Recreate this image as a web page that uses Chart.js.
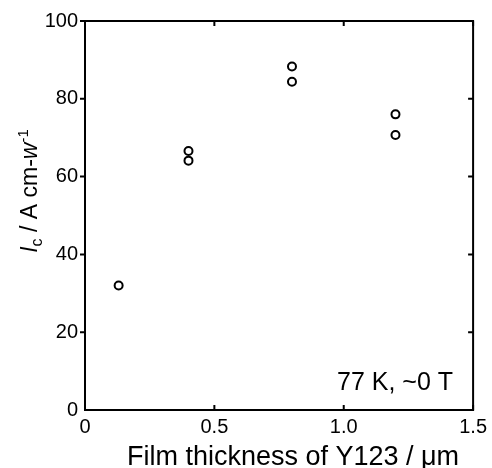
<!DOCTYPE html>
<html>
<head>
<meta charset="utf-8">
<script src="https://cdn.jsdelivr.net/npm/chart.js@4"></script>
<style>
  html, body { margin: 0; padding: 0; background: #fff; }
  canvas { display: block; }
</style>
</head>
<body>
<canvas id="chart" width="492" height="468"></canvas>
<script>
// film thickness (um) and Ic (A/cm-w)
const thickness = [0.13, 0.4, 0.4, 0.8, 0.8, 1.2, 1.2];
const ic = [32.0, 66.6, 64.1, 88.3, 84.4, 76.0, 70.7];
const xTicks = [0, 0.5, 1.0, 1.5];
const yTicks = [0, 20, 40, 60, 80, 100];

const FONT = '"Liberation Sans", Arial, sans-serif';

const framePlugin = {
  id: 'frame',
  afterDraw(chart) {
    const { ctx, chartArea: a, scales: { x, y } } = chart;
    ctx.save();
    ctx.strokeStyle = '#000';
    ctx.lineWidth = 2;
    ctx.strokeRect(a.left, a.top, a.right - a.left, a.bottom - a.top);

    ctx.beginPath();
    xTicks.forEach(v => {
      const px = x.getPixelForValue(v);
      ctx.moveTo(px, a.bottom); ctx.lineTo(px, a.bottom - 5);
      ctx.moveTo(px, a.top); ctx.lineTo(px, a.top + 5);
    });
    yTicks.forEach(v => {
      const py = y.getPixelForValue(v);
      if (v > 0) { ctx.moveTo(a.left, py); ctx.lineTo(a.left - 5, py); }
      ctx.moveTo(a.right, py); ctx.lineTo(a.right - 5, py);
    });
    ctx.stroke();

    ctx.fillStyle = '#000';

    // x title
    ctx.font = '27px ' + FONT;
    ctx.textAlign = 'center';
    ctx.textBaseline = 'alphabetic';
    ctx.fillText('Film thickness of Y123 / \u03bcm', 293, 465);

    // note
    ctx.font = '25px ' + FONT;
    ctx.textAlign = 'left';
    ctx.fillText('77 K, ~0 T', 337, 390);

    // y title, rich text rotated
    const parts = [
      { t: 'I', f: 'italic 23px ' + FONT, dy: 0 },
      { t: 'c', f: '16px ' + FONT, dy: 5 },
      { t: ' / A cm-', f: '23px ' + FONT, dy: 0 },
      { t: 'w', f: 'italic 23px ' + FONT, dy: 0 },
      { t: '-1', f: '15px ' + FONT, dy: -9 }
    ];
    let total = 0;
    parts.forEach(p => { ctx.font = p.f; p.w = ctx.measureText(p.t).width; total += p.w; });
    ctx.translate(37, 191);
    ctx.rotate(-Math.PI / 2);
    let cx = -total / 2;
    parts.forEach(p => {
      ctx.font = p.f;
      ctx.fillText(p.t, cx, p.dy);
      cx += p.w;
    });
    ctx.restore();
  }
};

new Chart(document.getElementById('chart'), {
  type: 'scatter',
  data: {
    datasets: [{
      data: thickness.map((t, i) => ({ x: t, y: ic[i] })),
      pointStyle: 'circle',
      pointRadius: 4,
      borderWidth: 2,
      borderColor: '#000',
      backgroundColor: 'rgba(0,0,0,0)'
    }]
  },
  options: {
    responsive: false,
    animation: false,
    devicePixelRatio: 1,
    layout: { padding: { top: 21, right: 18, left: 0, bottom: 0 } },
    plugins: { legend: { display: false }, tooltip: { enabled: false } },
    scales: {
      x: {
        type: 'linear',
        min: 0, max: 1.5,
        afterFit(s) { s.height = 58; },
        afterBuildTicks(s) { s.ticks = xTicks.map(v => ({ value: v })); },
        grid: { display: false, drawTicks: false },
        border: { display: false },
        ticks: {
          padding: 5,
          color: '#000',
          font: { family: FONT, size: 20 },
          maxRotation: 0,
          callback: v => (v === 0 ? '0' : v.toFixed(1))
        }
      },
      y: {
        type: 'linear',
        min: 0, max: 100,
        afterFit(s) { s.width = 85; },
        afterBuildTicks(s) { s.ticks = yTicks.map(v => ({ value: v })); },
        grid: { display: false, drawTicks: false },
        border: { display: false },
        ticks: {
          padding: 7,
          color: '#000',
          font: { family: FONT, size: 20 }
        }
      }
    }
  },
  plugins: [framePlugin]
});
</script>
</body>
</html>
